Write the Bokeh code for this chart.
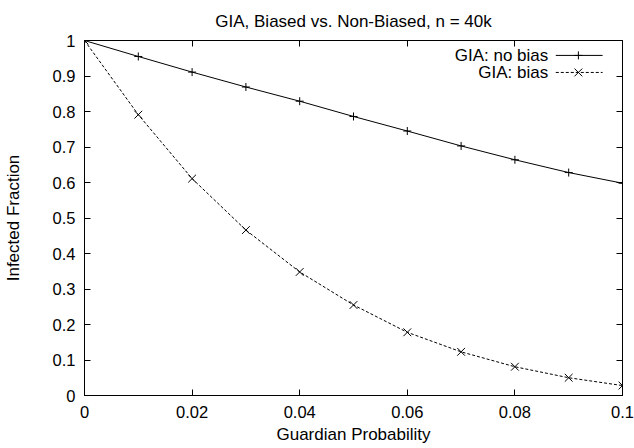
from bokeh.plotting import figure
from bokeh.models import LinearAxis, FixedTicker, Range1d, Label
from bokeh.embed import file_html
from bokeh.resources import INLINE

guardian_prob = [0.0, 0.01, 0.02, 0.03, 0.04, 0.05, 0.06, 0.07, 0.08, 0.09, 0.1]
no_bias = [1.0, 0.955, 0.911, 0.869, 0.829, 0.786, 0.745, 0.703, 0.664, 0.628, 0.598]
bias = [1.0, 0.791, 0.611, 0.466, 0.348, 0.255, 0.178, 0.123, 0.081, 0.050, 0.028]

x_ticks = [0, 0.02, 0.04, 0.06, 0.08, 0.1]
x_tick_labels = ["0", "0.02", "0.04", "0.06", "0.08", "0.1"]
y_ticks = [0, 0.1, 0.2, 0.3, 0.4, 0.5, 0.6, 0.7, 0.8, 0.9, 1]
y_tick_labels = ["0", "0.1", "0.2", "0.3", "0.4", "0.5", "0.6", "0.7", "0.8", "0.9", "1"]

series_names = ["GIA: no bias", "GIA: bias"]

FONT = "Liberation Sans"
FS = "17px"
TFS = "16.5px"

p = figure(width=634, height=448, output_backend="svg", toolbar_location=None,
           x_range=Range1d(0, 0.1), y_range=Range1d(0, 1),
           min_border_left=83, min_border_right=12, min_border_top=40, min_border_bottom=53,
           title="GIA, Biased vs. Non-Biased, n = 40k")

p.title.text_font = FONT
p.title.text_font_size = FS
p.title.text_font_style = "normal"
p.title.align = "center"
p.title.text_color = "black"
p.title.standoff = 19

p.xgrid.visible = False
p.ygrid.visible = False
p.outline_line_color = "black"
p.outline_line_width = 1
p.background_fill_color = "white"
p.border_fill_color = "white"

def style_axis(ax, ticks, labels, show_labels=True):
    ax.ticker = FixedTicker(ticks=ticks)
    ax.major_label_overrides = {t: l for t, l in zip(ticks, labels)}
    ax.major_tick_in = 6
    ax.major_tick_out = 0
    ax.minor_tick_line_color = None
    ax.axis_line_color = "black"
    ax.major_tick_line_color = "black"
    ax.major_label_text_font = FONT
    ax.major_label_text_font_size = TFS
    ax.major_label_text_color = "black" if show_labels else None
    ax.axis_label_text_font = FONT
    ax.axis_label_text_font_size = FS
    ax.axis_label_text_font_style = "normal"
    ax.axis_label_text_color = "black"

xa = p.xaxis[0]
ya = p.yaxis[0]
style_axis(xa, x_ticks, x_tick_labels)
style_axis(ya, y_ticks, y_tick_labels)
xa.axis_label = "Guardian Probability"
ya.axis_label = "Infected Fraction"
xa.major_label_standoff = 10
ya.major_label_standoff = 9
xa.axis_label_standoff = 4
ya.axis_label_standoff = 27

top = LinearAxis()
style_axis(top, x_ticks, x_tick_labels, show_labels=False)
top.major_label_text_font_size = "0px"
top.major_label_standoff = 0
p.add_layout(top, "above")
right = LinearAxis()
style_axis(right, y_ticks, y_tick_labels, show_labels=False)
right.major_label_text_font_size = "0px"
right.major_label_standoff = 0
p.add_layout(right, "right")

p.line(guardian_prob, no_bias, line_color="black", line_width=1)
p.scatter(guardian_prob, no_bias, marker="cross", size=8, line_color="black", line_width=1)
p.line(guardian_prob, bias, line_color="black", line_width=1, line_dash="3 2")
p.scatter(guardian_prob, bias, marker="x", size=11, line_color="black", line_width=1)

# legend (gnuplot style: text right-aligned, sample to the right)
leg_y = [0.958, 0.910]
leg_text_x = 0.0862
leg_line_x = [0.0876, 0.0963]
leg_marker_x = 0.0918
for name, yy, dash, mk, sz in zip(series_names, leg_y, ["solid", "3 2"], ["cross", "x"], [8, 11]):
    p.add_layout(Label(x=leg_text_x, y=yy, text=name, text_align="right", text_baseline="middle",
                       text_font=FONT, text_font_size=FS, text_color="black"))
    p.line(leg_line_x, [yy, yy], line_color="black", line_width=1, line_dash=dash)
    p.scatter([leg_marker_x], [yy], marker=mk, size=sz, line_color="black", line_width=1)

open("out.html", "w").write(file_html(p, INLINE))
